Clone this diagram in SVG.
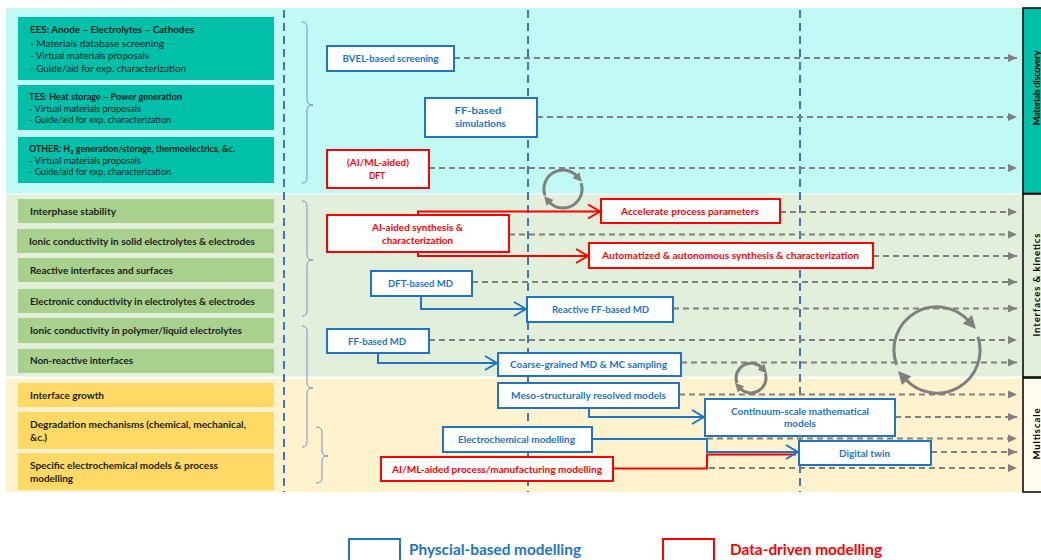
<svg xmlns="http://www.w3.org/2000/svg" width="1041" height="560" viewBox="0 0 1041 560">
<style>
.f{font-family:Lato,'Liberation Sans',sans-serif}
.lb{font-family:Lato,'Liberation Sans',sans-serif;font-weight:bold;fill:#1c1c1c;font-size:10.3px}
.ll{font-family:Lato,'Liberation Sans',sans-serif;fill:#1c1c1c}
.bn{fill:#fff;stroke:#1F74C4;stroke-width:2}
.rn{fill:#fff;stroke:#FF0000;stroke-width:2}
.bt{font-family:Lato,'Liberation Sans',sans-serif;font-weight:bold;font-size:10px;fill:#2273C3;text-anchor:middle}
.rt{font-family:Lato,'Liberation Sans',sans-serif;font-weight:bold;font-size:10px;fill:#FF0000;text-anchor:middle}
.dash{stroke:#808080;stroke-width:2;stroke-dasharray:6 4;fill:none;marker-end:url(#gh)}
.vl{stroke:#4472C4;stroke-width:2;stroke-dasharray:8 5;fill:none}
.br{stroke:#7190CC;stroke-width:1;fill:none}
.bc{stroke:#1F74C4;stroke-width:2;fill:none}
.rc{stroke:#FF0000;stroke-width:2;fill:none}
.cy{stroke:#808080;stroke-width:3;fill:none}
.side{font-family:Lato,'Liberation Sans',sans-serif;font-weight:bold;font-size:9.5px;fill:#000;text-anchor:middle}
</style>
<defs>
<marker id="gh" markerUnits="userSpaceOnUse" viewBox="0 0 10 10" refX="10" refY="5" markerWidth="9" markerHeight="9" orient="auto"><path d="M0,0.5 L10,5 L0,9.5 z" fill="#808080"/></marker>
<marker id="bch" markerUnits="userSpaceOnUse" viewBox="-1 -1 14 16" refX="12" refY="7" markerWidth="14" markerHeight="16" orient="auto"><path d="M0,0 L12,7 L0,14" fill="none" stroke="#1F74C4" stroke-width="2"/></marker>
<marker id="rch" markerUnits="userSpaceOnUse" viewBox="-1 -1 14 16" refX="12" refY="7" markerWidth="14" markerHeight="16" orient="auto"><path d="M0,0 L12,7 L0,14" fill="none" stroke="#FF0000" stroke-width="2"/></marker>
<marker id="ch" markerUnits="userSpaceOnUse" viewBox="0 0 10 10" refX="2" refY="5" markerWidth="9" markerHeight="9" orient="auto"><path d="M0,0 L10,5 L0,10 z" fill="#808080"/></marker>
<marker id="chL" markerUnits="userSpaceOnUse" viewBox="0 0 10 10" refX="2" refY="5" markerWidth="13" markerHeight="13" orient="auto"><path d="M0,0 L10,5 L0,10 z" fill="#808080"/></marker>
</defs>

<g id="bands">
<rect x="6" y="8" width="1017" height="185.5" fill="#C1FAF4"/>
<rect x="6" y="194.5" width="1017" height="182" fill="#E2EFDA"/>
<rect x="6" y="378.5" width="1017" height="113.5" fill="#FFF2CC"/>
</g>

<g id="side-labels">
<g id="side-materials"><rect x="1023" y="8" width="22" height="185.5" fill="#00C0AA" stroke="#000" stroke-width="1.5"/>
<text class="side" transform="rotate(-90 1037 88)" x="1037" y="88" dy="0.35em" textLength="75" lengthAdjust="spacing">Materials discovery</text></g>
<g id="side-interfaces"><rect x="1023" y="194" width="22" height="183" fill="#E2EFDA" stroke="#000" stroke-width="1.5"/>
<text class="side" transform="rotate(-90 1037 285)" x="1037" y="285" dy="0.35em" textLength="103" lengthAdjust="spacing">Interfaces &amp; kinetics</text></g>
<g id="side-multiscale"><rect x="1023" y="378" width="22" height="114" fill="#FFFBEE" stroke="#000" stroke-width="1.5"/>
<text class="side" transform="rotate(-90 1037 434)" x="1037" y="434" dy="0.35em" textLength="51" lengthAdjust="spacing">Multiscale</text></g>
</g>

<g id="left-categories">
<g id="cat-ees"><rect x="18" y="17" width="256" height="63" fill="#00C0AA"/>
<text class="lb" x="30" y="33" style="font-size:9.8px" textLength="164" lengthAdjust="spacingAndGlyphs">EES: Anode – Electrolytes – Cathodes</text>
<text class="ll" x="30" y="46.5" font-size="10" textLength="134" lengthAdjust="spacingAndGlyphs">- Materials database  screening</text>
<text class="ll" x="30" y="59" font-size="10" textLength="119" lengthAdjust="spacingAndGlyphs">- Virtual materials proposals</text>
<text class="ll" x="30" y="72" font-size="10" textLength="156" lengthAdjust="spacingAndGlyphs">- Guide/aid for exp. characterization</text></g>
<g id="cat-tes"><rect x="18" y="85" width="256" height="45" fill="#00C0AA"/>
<text class="lb" x="29" y="100" style="font-size:9.1px" textLength="153" lengthAdjust="spacingAndGlyphs">TES: Heat storage – Power generation</text>
<text class="ll" x="29" y="111.5" font-size="9" textLength="112" lengthAdjust="spacingAndGlyphs">- Virtual materials proposals</text>
<text class="ll" x="29" y="122.5" font-size="9" textLength="142" lengthAdjust="spacingAndGlyphs">- Guide/aid for exp. characterization</text></g>
<g id="cat-other"><rect x="18" y="137" width="256" height="46" fill="#00C0AA"/>
<text class="lb" x="29" y="152" style="font-size:8.9px">OTHER: H<tspan font-size="6" dy="1.5">2</tspan><tspan dy="-1.5"> generation/storage, thermoelectrics, &amp;c.</tspan></text>
<text class="ll" x="29" y="164" font-size="9" textLength="112" lengthAdjust="spacingAndGlyphs">- Virtual materials proposals</text>
<text class="ll" x="29" y="175" font-size="9" textLength="142" lengthAdjust="spacingAndGlyphs">- Guide/aid for exp. characterization</text></g>

<g id="cat-interphase"><rect x="18" y="199" width="256" height="24" fill="#A9D18E"/><text class="lb" x="30" y="214.5" textLength="86" lengthAdjust="spacingAndGlyphs">Interphase stability</text></g>
<g id="cat-ionic-solid"><rect x="17" y="229" width="257" height="24" fill="#A9D18E"/><text class="lb" x="29" y="244.5" textLength="226" lengthAdjust="spacingAndGlyphs">Ionic conductivity in solid electrolytes &amp; electrodes</text></g>
<g id="cat-reactive"><rect x="18" y="258" width="256" height="24" fill="#A9D18E"/><text class="lb" x="30" y="273.5" textLength="143" lengthAdjust="spacingAndGlyphs">Reactive interfaces and surfaces</text></g>
<g id="cat-electronic"><rect x="18" y="289" width="256" height="24" fill="#A9D18E"/><text class="lb" x="30" y="304.5" textLength="225" lengthAdjust="spacingAndGlyphs">Electronic conductivity in electrolytes &amp; electrodes</text></g>
<g id="cat-ionic-poly"><rect x="18" y="318" width="256" height="25" fill="#A9D18E"/><text class="lb" x="30" y="333.5" textLength="212" lengthAdjust="spacingAndGlyphs">Ionic conductivity in polymer/liquid electrolytes</text></g>
<g id="cat-nonreactive"><rect x="18" y="349" width="256" height="24" fill="#A9D18E"/><text class="lb" x="30" y="364" textLength="103" lengthAdjust="spacingAndGlyphs">Non-reactive interfaces</text></g>

<g id="cat-growth"><rect x="18" y="383" width="256" height="24" fill="#FFD966"/><text class="lb" x="30" y="398.5" textLength="74" lengthAdjust="spacingAndGlyphs">Interface growth</text></g>
<g id="cat-degradation"><rect x="18" y="412" width="256" height="37" fill="#FFD966"/><text class="lb" x="30" y="427.5" textLength="216" lengthAdjust="spacingAndGlyphs">Degradation mechanisms (chemical, mechanical,</text><text class="lb" x="30" y="440.5" textLength="17" lengthAdjust="spacingAndGlyphs">&amp;c.)</text></g>
<g id="cat-specific"><rect x="18" y="453" width="256" height="37" fill="#FFD966"/><text class="lb" x="30" y="468.5" textLength="188" lengthAdjust="spacingAndGlyphs">Specific electrochemical models &amp; process</text><text class="lb" x="30" y="481.5" textLength="43" lengthAdjust="spacingAndGlyphs">modelling</text></g>
</g>

<g id="grid">
<line class="vl" x1="284" y1="10" x2="284" y2="492"/>
<line class="vl" x1="528" y1="10" x2="528" y2="492"/>
<line class="vl" x1="800" y1="10" x2="800" y2="492"/>
<path class="br" d="M302,22 Q307,22 307,27 L307,100 Q307,105 313,105 Q307,105 307,110 L307,178 Q307,183 302,183"/>
<path class="br" d="M302,201 Q307,201 307,206 L307,255 Q307,260 313,260 Q307,260 307,265 L307,311 Q307,316 302,316"/>
<path class="br" d="M302,326 Q307,326 307,331 L307,383 Q307,388 313,388 Q307,388 307,393 L307,442 Q307,447 302,447"/>
<path class="br" d="M316,427 Q322,427 322,432 L322,451 Q322,456 328,456 Q322,456 322,461 L322,478 Q322,483 316,483"/>
</g>

<g id="connectors">
<path class="dash" d="M454,58 H1017"/>
<path class="dash" d="M537,117 H1017"/>
<path class="dash" d="M429,168 H1017"/>
<path class="dash" d="M780,212 H1017"/>
<path class="dash" d="M509,234.5 H1017"/>
<path class="dash" d="M873,256 H1017"/>
<path class="dash" d="M472,282 H1017"/>
<path class="dash" d="M673,308.5 H1017"/>
<path class="dash" d="M429,340 H1017"/>
<path class="dash" d="M681,362.5 H1017"/>
<path class="dash" d="M679,394.5 H1017"/>
<path class="dash" d="M895,417 H1017"/>
<path class="dash" d="M707,438.5 H1017"/>
<path class="dash" d="M931,452 H1017"/>
<path class="dash" d="M709,468 H1017"/>

<path class="rc" d="M418,215 V211.5 H600" marker-end="url(#rch)"/>
<path class="rc" d="M418,252 V256 H588" marker-end="url(#rch)"/>
<path class="bc" d="M421,296 V309 H526" marker-end="url(#bch)"/>
<path class="bc" d="M378,353 V363 H497" marker-end="url(#bch)"/>
<path class="bc" d="M589,408 V417 H704" marker-end="url(#bch)"/>
<path class="rc" d="M613,468.5 H707 V454.5 H796"/>
<path class="bc" d="M592,439 H707 V452 H798" marker-end="url(#bch)"/>

<path class="cy" d="M545.1,195.5 A19,19 0 0 1 577.1,176.3" marker-end="url(#ch)"/>
<path class="cy" d="M581.1,183.1 A19,19 0 0 1 548.9,201.7" marker-end="url(#ch)"/>
<path class="cy" d="M736.9,383.1 A15,15 0 0 1 762.1,368" marker-end="url(#ch)"/>
<path class="cy" d="M765.3,373.4 A15,15 0 0 1 739.9,388" marker-end="url(#ch)"/>
<path class="cy" d="M896.6,364.7 A43,43 0 0 1 969,321.2" marker-end="url(#chL)"/>
<path class="cy" d="M977.9,336.7 A43,43 0 0 1 905,378.8" marker-end="url(#chL)"/>
</g>

<g id="node-bvel"><rect class="bn" x="327" y="46" width="127" height="25"/><text class="bt" x="390.5" y="62" textLength="96" lengthAdjust="spacingAndGlyphs">BVEL-based screening</text></g>
<g id="node-ffsim"><rect class="bn" x="425" y="98" width="112" height="39"/><text class="bt" x="478" y="113.5" textLength="47" lengthAdjust="spacingAndGlyphs">FF-based</text><text class="bt" x="480.5" y="126.5" textLength="51" lengthAdjust="spacingAndGlyphs">simulations</text></g>
<g id="node-dft"><rect class="rn" x="327" y="150" width="102" height="38"/><text class="rt" x="378" y="166" textLength="62" lengthAdjust="spacingAndGlyphs">(AI/ML-aided)</text><text class="rt" x="377" y="178.5" textLength="16" lengthAdjust="spacingAndGlyphs">DFT</text></g>
<g id="node-aisynth"><rect class="rn" x="327" y="215" width="182" height="37"/><text class="rt" x="417.5" y="230.5" textLength="91" lengthAdjust="spacingAndGlyphs">AI-aided synthesis &amp;</text><text class="rt" x="417.5" y="243.5" textLength="71" lengthAdjust="spacingAndGlyphs">characterization</text></g>
<g id="node-accel"><rect class="rn" x="601" y="199" width="179" height="24"/><text class="rt" x="690" y="215" textLength="138" lengthAdjust="spacingAndGlyphs">Accelerate process parameters</text></g>
<g id="node-auto"><rect class="rn" x="589" y="243" width="284" height="25"/><text class="rt" x="730.5" y="259" textLength="257" lengthAdjust="spacingAndGlyphs">Automatized &amp; autonomous synthesis &amp; characterization</text></g>
<g id="node-dftmd"><rect class="bn" x="371" y="271" width="101" height="25"/><text class="bt" x="420.5" y="287" textLength="65" lengthAdjust="spacingAndGlyphs">DFT-based MD</text></g>
<g id="node-reactive"><rect class="bn" x="527" y="297" width="146" height="25"/><text class="bt" x="600.5" y="313" textLength="97" lengthAdjust="spacingAndGlyphs">Reactive FF-based MD</text></g>
<g id="node-ffmd"><rect class="bn" x="327" y="329" width="102" height="24"/><text class="bt" x="377" y="344.5" textLength="58" lengthAdjust="spacingAndGlyphs">FF-based MD</text></g>
<g id="node-coarse"><rect class="bn" x="498" y="353" width="183" height="23"/><text class="bt" x="588.5" y="368" textLength="157" lengthAdjust="spacingAndGlyphs">Coarse-grained MD &amp; MC sampling</text></g>
<g id="node-meso"><rect class="bn" x="498" y="383" width="181" height="25"/><text class="bt" x="588.5" y="399" textLength="155" lengthAdjust="spacingAndGlyphs">Meso-structurally resolved models</text></g>
<g id="node-continuum"><rect class="bn" x="705" y="399" width="190" height="37"/><text class="bt" x="800" y="414.5" textLength="138" lengthAdjust="spacingAndGlyphs">Continuum-scale mathematical</text><text class="bt" x="800" y="427" textLength="32" lengthAdjust="spacingAndGlyphs">models</text></g>
<g id="node-electrochem"><rect class="bn" x="443" y="427" width="149" height="25"/><text class="bt" x="516.5" y="443" textLength="117" lengthAdjust="spacingAndGlyphs">Electrochemical modelling</text></g>
<g id="node-aiml"><rect class="rn" x="381" y="457" width="232" height="24"/><text class="rt" x="497" y="472.5" textLength="210" lengthAdjust="spacingAndGlyphs">AI/ML-aided process/manufacturing modelling</text></g>
<g id="node-twin"><rect class="bn" x="799" y="441" width="132" height="24"/><text class="bt" x="864.5" y="456.5" textLength="51" lengthAdjust="spacingAndGlyphs">Digital twin</text></g>

<g id="legend">
<rect x="349" y="539" width="51" height="30" fill="#fff" stroke="#1F74C4" stroke-width="2"/>
<text class="f" x="409" y="554.5" font-size="15.5" font-weight="bold" fill="#2273C3" textLength="172" lengthAdjust="spacingAndGlyphs">Physcial-based modelling</text>
<rect x="663" y="539" width="51" height="30" fill="#fff" stroke="#FF0000" stroke-width="2"/>
<text class="f" x="730" y="554.5" font-size="15.5" font-weight="bold" fill="#FF0000" textLength="152" lengthAdjust="spacingAndGlyphs">Data-driven modelling</text>
</g>
</svg>
